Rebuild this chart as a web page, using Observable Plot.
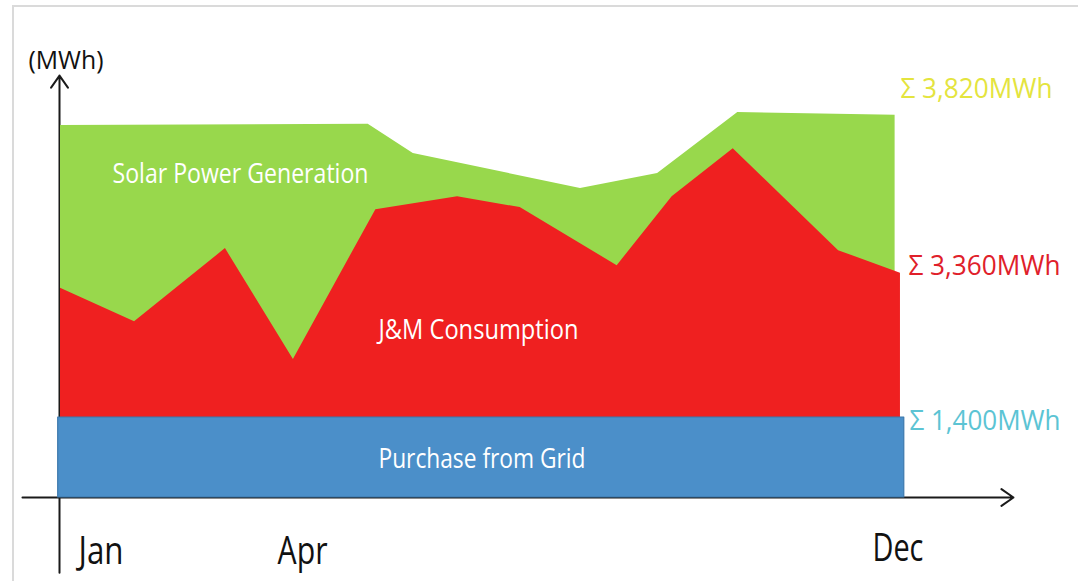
<!DOCTYPE html>
<html><head><meta charset="utf-8">
<script src="https://cdn.jsdelivr.net/npm/d3@7"></script>
<script src="https://cdn.jsdelivr.net/npm/@observablehq/plot@0.6"></script>
<style>
html,body{margin:0;padding:0;background:#fff;}
#wrap{position:relative;width:1078px;height:581px;overflow:hidden;}
#frame{position:absolute;left:12px;top:5px;width:1100px;height:620px;border-top:2px solid #dadada;border-left:2px solid #dadada;pointer-events:none;}
svg{display:block;}
</style></head><body>
<div id="wrap"><div id="chart"></div><div id="frame"></div></div>
<script>
// ---- data ----
const unitLabel = "(MWh)";
const tickMonths = ["Jan", "Apr", "Dec"];
const tickIndex = [0, 3, 11];
const solarMonth = [0, 4.03, 4.62, 6.81, 7.82, 8.87, 10.93];
const solarMWh = [544, 546, 503, 452, 474, 563, 559];
const consumptionMonth = [0, 0.97, 2.16, 3.05, 4.13, 5.20, 6.02, 7.29, 8.01, 8.81, 10.19, 11.0];
const consumptionMWh = [306, 257, 364, 202, 421, 440, 424, 339, 440, 510, 361, 328];
const gridMonth = [-0.03, 11.05];
const gridMWh = [117, 117];
const seriesNames = ["Solar Power Generation", "J&M Consumption", "Purchase from Grid"];
const seriesTotals = ["Σ 3,820MWh", "Σ 3,360MWh", "Σ 1,400MWh"];

const solar = solarMonth.map((m, i) => ({m, v: solarMWh[i]}));
const consumption = consumptionMonth.map((m, i) => ({m, v: consumptionMWh[i]}));
const grid = gridMonth.map((m, i) => ({m, v: gridMWh[i]}));

const FONT = "'Open Sans', sans-serif";
const colors = {solar: "#98d84c", cons: "#ef2020", grid: "#4b8fc9"};
const totalColors = ["#e4e43e", "#e0202a", "#5cc4d4"];

function label(text, x, y, fill, size) {
  return Plot.text([text], {
    x: [x], y: [y], text: d => d, fill, fontSize: size,
    fontFamily: FONT, textAnchor: "start", lineAnchor: "top"
  });
}

const chart = Plot.plot({
  width: 1078, height: 581,
  marginTop: 0, marginRight: 0, marginBottom: 0, marginLeft: 0,
  style: {fontFamily: FONT, background: "transparent", overflow: "visible"},
  x: {domain: [-0.7857, 13.3316], range: [0, 1078], axis: null},
  y: {domain: [-122.85, 726.86], range: [581, 0], axis: null},
  marks: [
    // axes with arrow heads
    Plot.arrow([0], {x1: -0.498, y1: 0, x2: 12.48, y2: 0, stroke: "#1a1a1a", strokeWidth: 2, headLength: 11, headAngle: 70}),
    Plot.arrow([0], {x1: -0.013, y1: -110, x2: -0.013, y2: 617, stroke: "#1a1a1a", strokeWidth: 2, headLength: 11, headAngle: 70}),
    // areas
    Plot.areaY(solar, {x: "m", y1: 0, y2: "v", fill: colors.solar}),
    Plot.areaY(consumption, {x: "m", y1: 0, y2: "v", fill: colors.cons}),
    Plot.areaY(grid, {x: "m", y1: 0, y2: "v", fill: colors.grid, stroke: "#3c78ac", strokeWidth: 1.2}),
    // texts
    label(unitLabel, -0.419, 652, "#111", 25),
    label(seriesNames[0], 0.681, 488.5, "#ffffff", 28),
    label(seriesNames[1], 4.164, 260.3, "#ffffff", 27),
    label(seriesNames[2], 4.164, 71.7, "#ffffff", 28),
    label(seriesTotals[0], 11.0, 612.8, totalColors[0], 28),
    label(seriesTotals[1], 11.105, 353.9, totalColors[1], 28),
    label(seriesTotals[2], 11.118, 127.2, totalColors[2], 28),
    Plot.text([tickMonths[0]], {x: [tickIndex[0]], y: [-58.5], text: d => d, dx: 18, fill: "#111", fontSize: 38, fontFamily: FONT, textAnchor: "start", lineAnchor: "top"}),
    Plot.text([tickMonths[1]], {x: [tickIndex[1]], y: [-58.5], text: d => d, dx: -12, fill: "#111", fontSize: 38, fontFamily: FONT, textAnchor: "start", lineAnchor: "top"}),
    Plot.text([tickMonths[2]], {x: [tickIndex[2]], y: [-52.7], text: d => d, dx: -28, fill: "#111", fontSize: 38, fontFamily: FONT, textAnchor: "start", lineAnchor: "top"})
  ]
});

// squeeze the condensed labels to the widths seen in the reference
const widths = {
  "(MWh)": 75, "Solar Power Generation": 256, "J&M Consumption": 200, "Purchase from Grid": 207,
  "Σ 3,820MWh": 152, "Σ 3,360MWh": 152, "Σ 1,400MWh": 151, "Jan": 45, "Apr": 50, "Dec": 51
};
d3.select(chart).selectAll("text").each(function () {
  const w = widths[this.textContent];
  if (w) { this.setAttribute("textLength", w); this.setAttribute("lengthAdjust", "spacingAndGlyphs"); }
});
document.getElementById("chart").appendChild(chart);
</script>
</body></html>
